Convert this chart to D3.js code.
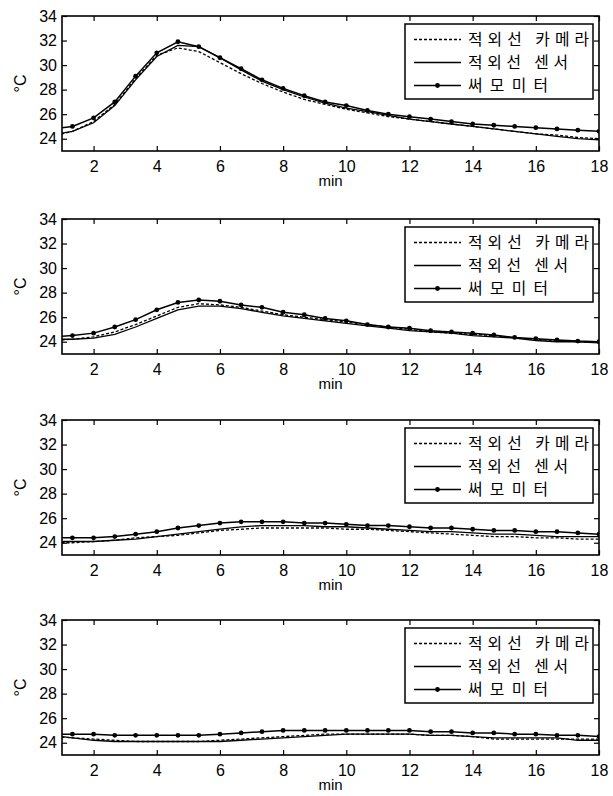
<!DOCTYPE html>
<html>
<head>
<meta charset="utf-8">
<script src="https://cdn.jsdelivr.net/npm/d3@7"></script>
<style>
  body { margin: 0; background: #fff; }
  svg { display: block; }
  text { font-family: "Liberation Sans", Arial, sans-serif; fill: #000; }
</style>
</head>
<body>
<svg id="chart" width="613" height="796"></svg>
<script>
// sample times (min), thermometer read every 40 s
var minutes = [0.67, 1.33, 2, 2.67, 3.33, 4, 4.67, 5.33, 6, 6.67, 7.33, 8, 8.67, 9.33, 10,
               10.67, 11.33, 12, 12.67, 13.33, 14, 14.67, 15.33, 16, 16.67, 17.33, 18]

var seriesNames = ["적외선 카메라", "적외선 센서", "써모미터"]
var xTicks = [2, 4, 6, 8, 10, 12, 14, 16, 18]
var yTicks = [24, 26, 28, 30, 32, 34]

// panel 1
var camera1 = [24.2, 24.6, 25.4, 26.8, 28.9, 30.8, 31.4, 31.1, 30.2, 29.3, 28.5, 27.8, 27.2, 26.8, 26.4, 26.1, 25.8, 25.6, 25.4, 25.2, 25.0, 24.8, 24.6, 24.4, 24.3, 24.1, 24.0]
var sensor1 = [24.3, 24.6, 25.3, 26.7, 28.8, 30.7, 31.6, 31.5, 30.6, 29.6, 28.7, 28.0, 27.4, 26.9, 26.5, 26.2, 25.9, 25.6, 25.4, 25.2, 25.0, 24.8, 24.6, 24.4, 24.2, 24.0, 23.9]
var thermo1 = [24.8, 25.0, 25.7, 27.0, 29.1, 31.0, 31.9, 31.5, 30.6, 29.7, 28.8, 28.1, 27.5, 27.0, 26.7, 26.3, 26.0, 25.8, 25.6, 25.4, 25.2, 25.1, 25.0, 24.9, 24.8, 24.7, 24.6]
// panel 2
var camera2 = [24.1, 24.2, 24.4, 24.8, 25.4, 26.1, 26.8, 27.1, 27.0, 26.8, 26.5, 26.2, 26.0, 25.8, 25.6, 25.4, 25.2, 25.0, 24.8, 24.7, 24.6, 24.5, 24.3, 24.2, 24.1, 24.0, 24.0]
var sensor2 = [24.2, 24.2, 24.3, 24.6, 25.2, 25.9, 26.6, 26.9, 26.9, 26.7, 26.4, 26.1, 25.9, 25.7, 25.5, 25.3, 25.1, 24.9, 24.8, 24.7, 24.5, 24.4, 24.3, 24.1, 24.0, 24.0, 23.9]
var thermo2 = [24.4, 24.5, 24.7, 25.2, 25.8, 26.6, 27.2, 27.4, 27.3, 27.0, 26.8, 26.4, 26.2, 25.9, 25.7, 25.4, 25.2, 25.1, 24.9, 24.8, 24.7, 24.55, 24.35, 24.25, 24.15, 24.05, 24.0]
// panel 3
var camera3 = [24.0, 24.0, 24.1, 24.2, 24.4, 24.5, 24.6, 24.8, 25.0, 25.1, 25.2, 25.2, 25.2, 25.2, 25.1, 25.1, 25.0, 24.9, 24.8, 24.7, 24.6, 24.5, 24.5, 24.4, 24.4, 24.3, 24.3]
var sensor3 = [24.1, 24.1, 24.1, 24.2, 24.3, 24.5, 24.7, 24.9, 25.1, 25.3, 25.4, 25.4, 25.4, 25.3, 25.3, 25.2, 25.1, 25.0, 24.9, 24.9, 24.8, 24.7, 24.7, 24.6, 24.5, 24.5, 24.5]
var thermo3 = [24.4, 24.4, 24.4, 24.5, 24.7, 24.9, 25.2, 25.4, 25.6, 25.7, 25.7, 25.7, 25.6, 25.6, 25.5, 25.4, 25.4, 25.3, 25.2, 25.2, 25.1, 25.0, 25.0, 24.9, 24.9, 24.8, 24.7]
// panel 4
var camera4 = [24.5, 24.4, 24.3, 24.2, 24.1, 24.1, 24.1, 24.1, 24.2, 24.3, 24.4, 24.5, 24.6, 24.7, 24.7, 24.7, 24.7, 24.7, 24.6, 24.6, 24.5, 24.3, 24.3, 24.3, 24.3, 24.3, 24.3]
var sensor4 = [24.6, 24.4, 24.2, 24.1, 24.1, 24.1, 24.1, 24.1, 24.1, 24.2, 24.3, 24.4, 24.5, 24.6, 24.7, 24.7, 24.7, 24.7, 24.6, 24.6, 24.5, 24.4, 24.4, 24.4, 24.4, 24.2, 24.2]
var thermo4 = [24.7, 24.7, 24.7, 24.6, 24.6, 24.6, 24.6, 24.6, 24.7, 24.8, 24.9, 25.0, 25.0, 25.0, 25.0, 25.0, 25.0, 25.0, 24.9, 24.9, 24.8, 24.8, 24.7, 24.7, 24.6, 24.6, 24.5]

var panels = [
    {camera: camera1, sensor: sensor1, thermo: thermo1},
    {camera: camera2, sensor: sensor2, thermo: thermo2},
    {camera: camera3, sensor: sensor3, thermo: thermo3},
    {camera: camera4, sensor: sensor4, thermo: thermo4}
]

var svg = d3.select("#chart")
var dims = {left: 62, width: 537, height: 135, tops: [16, 219, 420, 620]}

var xScale = d3.scaleLinear().domain([1, 18]).range([0, dims.width])
var yScale = d3.scaleLinear().domain([23, 34]).range([dims.height, 0])

var line = d3.line()
    .x(d => xScale(d[0]))
    .y(d => yScale(d[1]))

panels.forEach((p, i) => {
    var g = svg.append("g")
        .attr("transform", `translate(${dims.left},${dims.tops[i]})`)

    g.append("clipPath").attr("id", "clip" + i)
        .append("rect")
        .attr("width", dims.width)
        .attr("height", dims.height)

    //axes, ticks pointing inward on all four sides
    var bottom = g.append("g")
        .attr("transform", `translate(0,${dims.height})`)
        .call(d3.axisBottom(xScale).tickValues(xTicks).tickSizeInner(-5).tickSizeOuter(0).tickPadding(10))
    var left = g.append("g")
        .call(d3.axisLeft(yScale).tickValues(yTicks).tickSizeInner(-5).tickSizeOuter(0).tickPadding(5))
    var top = g.append("g")
        .call(d3.axisTop(xScale).tickValues(xTicks).tickSizeInner(-5).tickSizeOuter(0).tickFormat(""))
    var right = g.append("g")
        .attr("transform", `translate(${dims.width},0)`)
        .call(d3.axisRight(yScale).tickValues(yTicks).tickSizeInner(-5).tickSizeOuter(0).tickFormat(""))

    ;[bottom, left, top, right].forEach(a => {
        a.select(".domain").remove()
        a.selectAll("line").attr("stroke", "#000").attr("stroke-width", 1.2)
        a.selectAll("text").attr("font-size", 16).attr("fill", "#000")
            .style("font-family", "'Liberation Sans', Arial, sans-serif")
    })

    var plot = g.append("g").attr("clip-path", `url(#clip${i})`)

    plot.append("path")
        .datum(minutes.map((m, k) => [m, p.camera[k]]))
        .attr("d", line)
        .attr("fill", "none")
        .attr("stroke", "#000")
        .attr("stroke-width", 1.3)
        .attr("stroke-dasharray", "3,2")

    plot.append("path")
        .datum(minutes.map((m, k) => [m, p.sensor[k]]))
        .attr("d", line)
        .attr("fill", "none")
        .attr("stroke", "#000")
        .attr("stroke-width", 1.3)

    var thermoData = minutes.map((m, k) => [m, p.thermo[k]])
    plot.append("path")
        .datum(thermoData)
        .attr("d", line)
        .attr("fill", "none")
        .attr("stroke", "#000")
        .attr("stroke-width", 1.5)

    plot.selectAll(".marker")
        .data(thermoData.filter(d => d[0] >= 1))
        .enter()
        .append("circle")
        .attr("class", "marker")
        .attr("cx", d => xScale(d[0]))
        .attr("cy", d => yScale(d[1]))
        .attr("r", 2.4)
        .attr("fill", "#000")

    //frame
    g.append("rect")
        .attr("width", dims.width)
        .attr("height", dims.height)
        .attr("fill", "none")
        .attr("stroke", "#000")
        .attr("stroke-width", 1.6)

    //axis labels
    g.append("text")
        .attr("x", dims.width / 2)
        .attr("y", dims.height + 35)
        .attr("text-anchor", "middle")
        .attr("font-size", 15)
        .text("min")

    g.append("text")
        .attr("transform", `translate(${20 - dims.left},${dims.height / 2}) rotate(-90)`)
        .attr("text-anchor", "middle")
        .attr("dy", "0.35em")
        .attr("font-size", 16)
        .text("°C")

    //legend
    var lg = g.append("g")
        .attr("transform", `translate(${405 - dims.left},8)`)
    lg.append("rect")
        .attr("width", 188)
        .attr("height", 75)
        .attr("fill", "#fff")
        .attr("stroke", "#000")
        .attr("stroke-width", 1.5)

    var rowY = [15.5, 38.5, 61.5]
    var textWidths = [121, 100, 80]
    seriesNames.forEach((name, k) => {
        var row = lg.append("g").attr("transform", `translate(0,${rowY[k]})`)
        var ln = row.append("line")
            .attr("x1", 9).attr("x2", 56)
            .attr("stroke", "#000")
            .attr("stroke-width", 1.3)
        if (k === 0) ln.attr("stroke-dasharray", "3,2")
        if (k === 2) row.append("circle").attr("cx", 32.5).attr("r", 2.4).attr("fill", "#000")
        var t = row.append("text")
            .attr("x", 63)
            .attr("dy", "0.36em")
            .attr("font-size", 15.8)
            .style("font-family", "'Noto Sans CJK KR', sans-serif")
            .text(name)
        // spread the glyphs out like the scanned legend
        var w = t.node().getComputedTextLength()
        var gap = Math.max(0, (textWidths[k] - w) / (name.length - 1))
        t.style("letter-spacing", gap + "px")
    })
})
</script>
</body>
</html>
